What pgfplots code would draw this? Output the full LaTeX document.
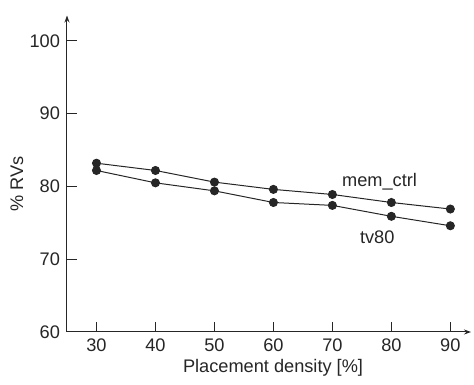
\documentclass[border=0pt]{standalone}
\usepackage{pgfplots}
\pgfplotsset{compat=1.18}
\usepackage{fontspec}
\setmainfont{Liberation Sans}
\usetikzlibrary{arrows.meta}
\begin{document}
\begin{tikzpicture}
\begin{axis}[
  name=ax,
  scale only axis,
  width=202pt, height=158.25pt,
  xmin=25, xmax=93.5, ymin=60, ymax=103.5,
  axis lines=left,
  axis line style={line width=0.5pt, draw=black!85, -{Stealth[length=3.5pt,width=2.5pt]}},
  xtick={30,40,50,60,70,80,90},
  ytick={60,70,80,90,100},
  tick align=inside,
  major tick length=5pt,
  tick style={line width=0.5pt, black!85},
  every tick label/.append style={font=\fontsize{9.1}{11}\selectfont, text=black!85},
  /pgf/number format/assume math mode=true,
  xticklabel style={yshift=0pt},
  xlabel={Placement density [\%]},
  ylabel={\% RVs},
  label style={font=\fontsize{9.1}{11}\selectfont, text=black!85},
  xlabel style={at={(axis description cs:0.51,0)}, anchor=center, yshift=-18pt},
  ylabel style={at={(axis description cs:-0.124,0.468)}, anchor=center},
  clip=false,
]
\coordinate (bl) at (rel axis cs:0,0);
\coordinate (tr) at (rel axis cs:1,1);
\addplot[black!85, line width=0.5pt, mark=*, mark size=2pt] coordinates {
 (30,83.2) (40,82.2) (50,80.6) (60,79.6) (70,78.9) (80,77.8) (90,76.9)};
\addplot[black!85, line width=0.5pt, mark=*, mark size=2pt] coordinates {
 (30,82.2) (40,80.5) (50,79.4) (60,77.8) (70,77.4) (80,75.9) (90,74.6)};
\node[font=\fontsize{9.1}{11}\selectfont, text=black!85] at (axis cs:78,80.7) {mem\_ctrl};
\node[font=\fontsize{9.1}{11}\selectfont, text=black!85] at (axis cs:77.6,73.0) {tv80};
\end{axis}
\pgfresetboundingbox
\path[use as bounding box] ([xshift=-33.5pt,yshift=-26.5pt]bl) rectangle ([xshift=1.5pt,yshift=7.75pt]tr);
\end{tikzpicture}
\end{document}
